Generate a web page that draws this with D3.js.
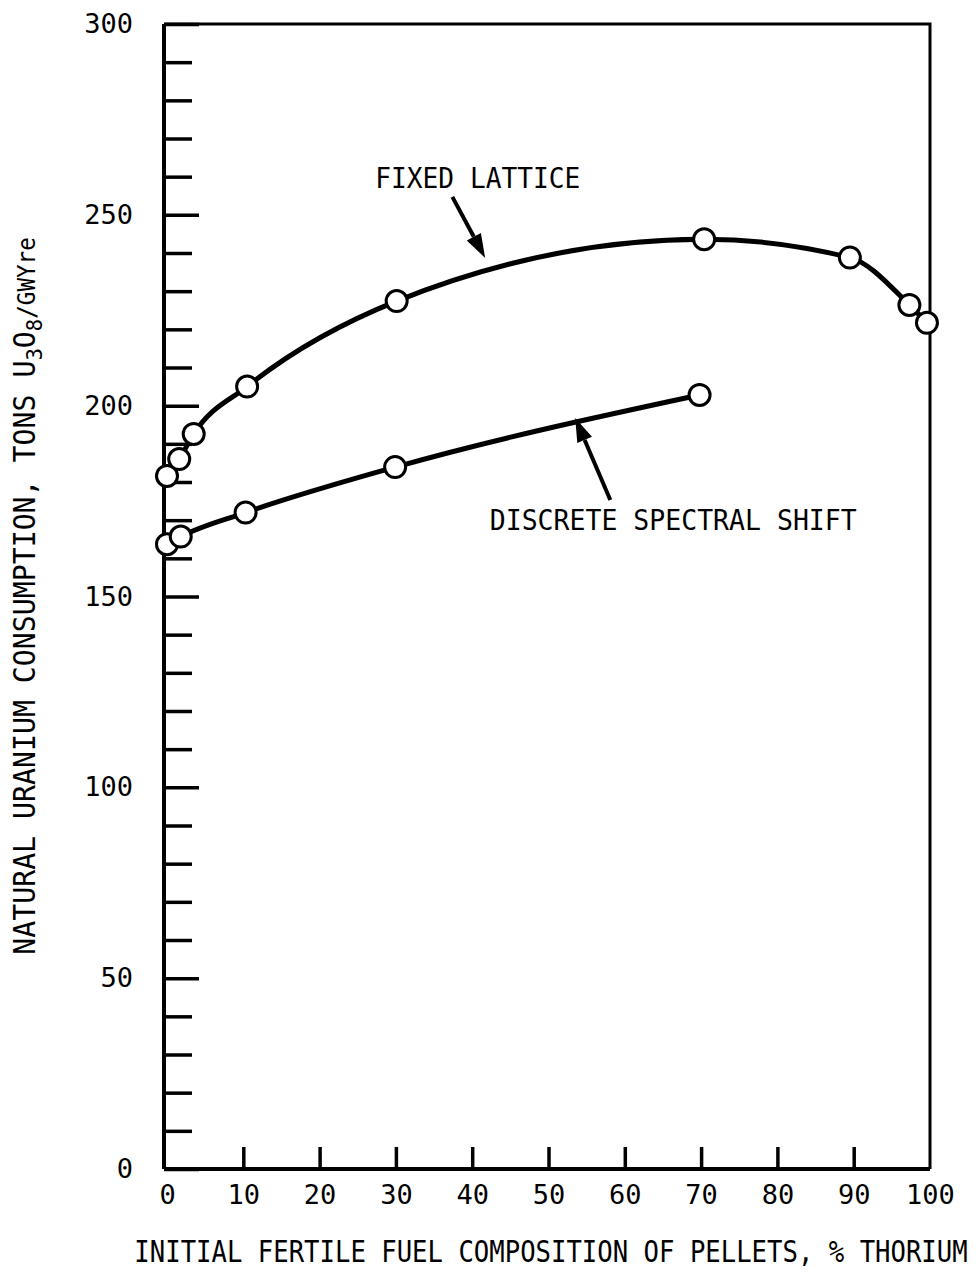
<!DOCTYPE html>
<html>
<head>
<meta charset="utf-8">
<script src="https://cdn.jsdelivr.net/npm/d3@7"></script>
<style>
  body { margin: 0; background: #fff; }
  text { font-family: "DejaVu Sans Mono", monospace; fill: #000; }
</style>
</head>
<body>
<script>
///////////////////////////////////
// Uranium consumption vs thorium //
///////////////////////////////////

// fixed lattice curve
var fixedX = [0, 1.6, 3.5, 10.5, 30.1, 70.4, 89.5, 97.3, 99.6];
var fixedY = [181.6, 186.0, 192.6, 205.0, 227.4, 243.6, 238.8, 226.4, 221.7];

// discrete spectral shift curve
var discreteX = [0, 1.8, 10.3, 29.9, 69.8];
var discreteY = [163.7, 165.7, 172.0, 183.9, 202.8];

var xTicks = [0, 10, 20, 30, 40, 50, 60, 70, 80, 90, 100];
var yMajor = [0, 50, 100, 150, 200, 250, 300];
var yMinor = d3.range(0, 301, 10).filter(function(v) { return v % 50 !== 0; });

var labels = ["FIXED LATTICE", "DISCRETE SPECTRAL SHIFT"];
var xTitle = "INITIAL FERTILE FUEL COMPOSITION OF PELLETS, % THORIUM";

var W = 978, H = 1278;
var plotLeft = 164, plotRight = 930, plotTop = 24, plotBottom = 1169;

var x = d3.scaleLinear().domain([0, 100]).range([167, 930]);
var y = d3.scaleLinear().domain([0, 300]).range([plotBottom, plotTop]);

var svg = d3.select("body").append("svg")
    .attr("width", W)
    .attr("height", H);

// frame
svg.append("path")
    .attr("d", "M" + plotLeft + "," + y(300) + "H" + plotRight + "V" + plotBottom)
    .style("stroke", "#000").style("stroke-width", 3).style("fill", "none");

// y axis, ticks pointing inward
var yAxis = svg.append("g")
    .attr("transform", "translate(" + plotLeft + ",0)")
    .call(d3.axisLeft(y).tickValues(yMajor).tickSize(-35).tickPadding(31)
        .tickFormat(d3.format("d")));
svg.append("g")
    .attr("transform", "translate(" + plotLeft + ",0)")
    .call(d3.axisLeft(y).tickValues(yMinor).tickSize(-28).tickFormat(""))
    .select(".domain").remove();

// x axis
var xAxis = svg.append("g")
    .attr("transform", "translate(0," + plotBottom + ")")
    .call(d3.axisBottom(x).tickValues(xTicks).tickSize(-22).tickPadding(16)
        .tickFormat(d3.format("d")));
xAxis.selectAll(".tick line").filter(function(d) { return d === 0 || d === 100; }).remove();
xAxis.select(".domain").attr("d", "M" + plotLeft + ",0H" + plotRight);

svg.selectAll(".domain").style("stroke", "#000").style("stroke-width", 4);
svg.selectAll(".tick line").style("stroke", "#000").style("stroke-width", 3.5);
svg.selectAll(".tick text")
    .style("font-family", "DejaVu Sans Mono")
    .style("font-size", "27px")
    .style("fill", "#000");
yAxis.select(".domain").attr("d", "M0," + plotBottom + "V" + y(300));

// axis titles
svg.append("text")
    .attr("transform", "translate(" + ((plotLeft + plotRight) / 2 + 4) + ",1262) scale(0.855,1)")
    .attr("text-anchor", "middle")
    .style("font-size", "30px")
    .text(xTitle);

var yt = svg.append("text")
    .attr("transform", "translate(35,596) rotate(-90) scale(0.94,1)")
    .attr("text-anchor", "middle")
    .style("font-size", "30px");
yt.append("tspan").text("NATURAL URANIUM CONSUMPTION, TONS U");
yt.append("tspan").attr("dy", 7).style("font-size", "22px").text("3");
yt.append("tspan").attr("dy", -7).text("O");
yt.append("tspan").attr("dy", 7).style("font-size", "22px").text("8");
yt.append("tspan").attr("dy", -7).style("font-size", "24px").text("/GWYre");

// curves
var line = d3.line()
    .x(function(d) { return x(d[0]); })
    .y(function(d) { return y(d[1]); })
    .curve(d3.curveMonotoneX);

var series = [d3.zip(fixedX, fixedY), d3.zip(discreteX, discreteY)];

svg.selectAll(".curve").data(series).enter().append("path")
    .attr("class", "curve")
    .attr("d", line)
    .style("stroke", "#000").style("stroke-width", 5).style("fill", "none");

series.forEach(function(pts) {
    svg.selectAll(null).data(pts).enter().append("circle")
        .attr("cx", function(d) { return x(d[0]); })
        .attr("cy", function(d) { return y(d[1]); })
        .attr("r", 10.5)
        .style("fill", "#fff").style("stroke", "#000").style("stroke-width", 3);
});

// annotations: label anchor and arrow tail/tip in data units
var notes = [
    { text: labels[0], at: [27.3, 257], from: [37.4, 254.7], to: [41.7, 238.7], w: 205 },
    { text: labels[1], at: [42.3, 167.4], from: [58.1, 175.3], to: [53.5, 196.8], w: 367 }
];

notes.forEach(function(n) {
    svg.append("text")
        .attr("x", x(n.at[0])).attr("y", y(n.at[1]))
        .attr("textLength", n.w).attr("lengthAdjust", "spacingAndGlyphs")
        .style("font-size", "28px")
        .text(n.text);

    var x0 = x(n.from[0]), y0 = y(n.from[1]), x1 = x(n.to[0]), y1 = y(n.to[1]);
    var a = Math.atan2(y1 - y0, x1 - x0);
    var len = 24, half = 8;
    var bx = x1 - len * Math.cos(a), by = y1 - len * Math.sin(a);
    svg.append("line")
        .attr("x1", x0).attr("y1", y0).attr("x2", bx).attr("y2", by)
        .style("stroke", "#000").style("stroke-width", 4);
    svg.append("polygon")
        .attr("points", [
            [x1, y1],
            [bx + half * Math.sin(a), by - half * Math.cos(a)],
            [bx - half * Math.sin(a), by + half * Math.cos(a)]
        ].map(function(p) { return p.join(","); }).join(" "))
        .style("fill", "#000");
});
</script>
</body>
</html>
